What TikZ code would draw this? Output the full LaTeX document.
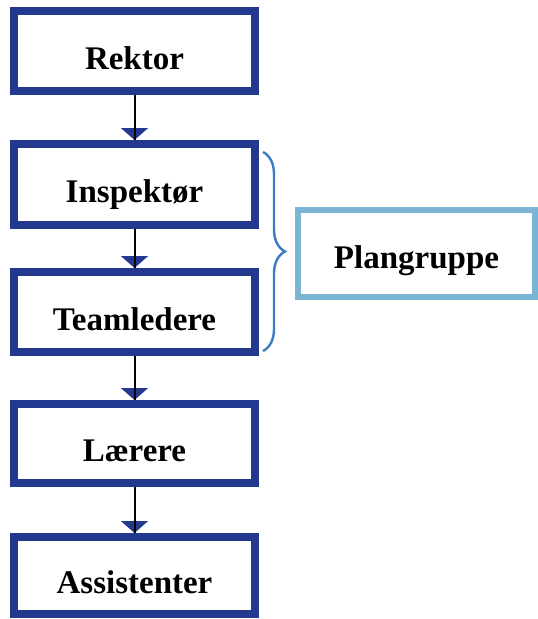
\documentclass[tikz,border=0pt]{standalone}
\usepackage{fontspec}
\setmainfont{Liberation Serif}
\usetikzlibrary{arrows.meta,decorations.pathreplacing}
\definecolor{navy}{HTML}{22398F}
\definecolor{skyline}{HTML}{7AB6D3}
\definecolor{bracecol}{HTML}{3A7CC6}
\begin{document}
\begin{tikzpicture}[x=1pt,y=-1pt,
  rolebox/.style={draw=navy, line width=8pt, rectangle, inner sep=0pt,
    minimum width=241pt, minimum height=#1, text height=36pt, text depth=0pt,
    font=\fontsize{33}{36}\selectfont\bfseries},
  groupbox/.style={draw=skyline, line width=6pt, rectangle, inner sep=0pt,
    minimum width=237pt, minimum height=87pt, text height=29pt, text depth=0pt,
    font=\fontsize{33}{36}\selectfont\bfseries},
  flow/.style={black, line width=2pt,
    -{Triangle[width=27pt,length=12pt,color=navy]},
    postaction={draw,-}},
  grouping/.style={bracecol, line width=2.4pt,
    decorate, decoration={brace, amplitude=22pt, aspect=0.5}}]
\useasboundingbox (0,0) rectangle (538,619);

% chain of roles
\node[rolebox=80pt] (rektor)     at (134.5,51)    {Rektor};
\node[rolebox=81pt] (inspektor)  at (134.5,184.5) {Inspektør};
\node[rolebox=80pt] (teamledere) at (134.5,312)   {Teamledere};
\node[rolebox=79pt] (laerere)    at (134.5,443.5) {Lærere};
\node[rolebox=77pt] (assist)     at (134.5,575.5) {Assistenter};

% the planning group
\node[groupbox] (plan) at (416.5,253.5) {Plangruppe};

% arrows between the roles
\draw[flow] (rektor.south)     -- (inspektor.north);
\draw[flow] (inspektor.south)  -- (teamledere.north);
\draw[flow] (teamledere.south) -- (laerere.north);
\draw[flow] (laerere.south)    -- (assist.north);

% brace grouping Inspektør and Teamledere
\coordinate (btop) at (263,152);
\coordinate (bbot) at (263,351);
\draw[grouping] (btop) -- (bbot);
\end{tikzpicture}
\end{document}
